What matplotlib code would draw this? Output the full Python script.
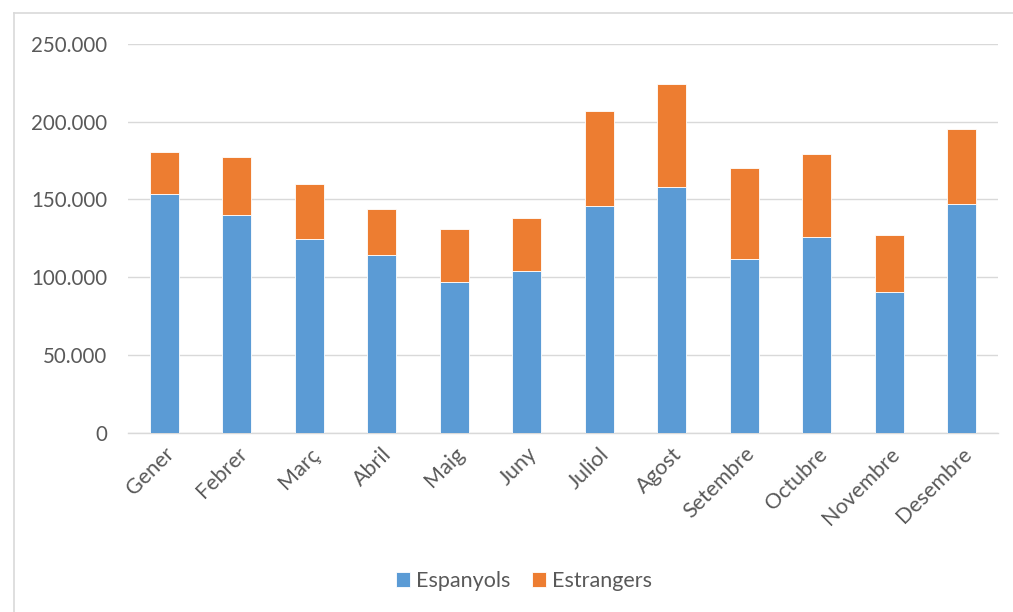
import matplotlib
matplotlib.use("Agg")
import matplotlib.pyplot as plt
from matplotlib.ticker import FuncFormatter, MultipleLocator
from matplotlib.lines import Line2D
import numpy as np

months = ["Gener", "Febrer", "Març", "Abril", "Maig", "Juny", "Juliol",
          "Agost", "Setembre", "Octubre", "Novembre", "Desembre"]
espanyols = [153400, 139900, 124800, 114200, 96800, 104100, 146100,
             158100, 112000, 125900, 90300, 147000]
totals = [180400, 177200, 159800, 143800, 130900, 138400, 207200,
          224200, 170300, 179300, 127000, 195200]
estrangers = [t - e for t, e in zip(totals, espanyols)]

plt.rcParams['font.family'] = ['Lato', 'DejaVu Sans']
text_color = "#595959"

fig = plt.figure(figsize=(10.13, 6.12), dpi=100)
ax = fig.add_axes([128/1013, 1-432.7/612, (998-128)/1013, (432.7-44)/612])

x = np.arange(len(months))
w = 0.40
ax.bar(x, espanyols, w, color="#5B9BD5", edgecolor="white", linewidth=0.6,
       label="Espanyols", zorder=3)
ax.bar(x, estrangers, w, bottom=espanyols, color="#ED7D31", edgecolor="white",
       linewidth=0.6, label="Estrangers", zorder=3)

ax.set_xlim(-0.5, len(months) - 0.5)
ax.set_ylim(0, 250000)
ax.yaxis.set_major_locator(MultipleLocator(50000))
ax.yaxis.set_major_formatter(FuncFormatter(lambda v, p: f"{int(v):,}".replace(",", ".")))
ax.grid(axis="y", color="#d9d9d9", linewidth=1.0, zorder=0)
for s in ["top", "right", "left"]:
    ax.spines[s].set_visible(False)
ax.spines["bottom"].set_color("#d9d9d9")
ax.spines["bottom"].set_linewidth(1.0)
ax.tick_params(axis="x", length=0, colors=text_color, labelsize=15.5, pad=8)
ax.tick_params(axis="y", length=0, colors=text_color, labelsize=14.8, pad=15)
ax.set_xticks(x)
ax.set_xticklabels(months, rotation=45, ha="right", rotation_mode="anchor")

fig.legend(loc="center", bbox_to_anchor=(524/1013, 1-581/612), ncol=2, frameon=False,
           fontsize=15.5, labelcolor=text_color, handlelength=0.65, handleheight=0.65,
           handletextpad=0.3, columnspacing=1.0)

# outer chart border (left and top visible)
fig.add_artist(Line2D([14/1013, 14/1013], [0, 1-13/612], color="#d9d9d9", linewidth=1.2,
                      transform=fig.transFigure))
fig.add_artist(Line2D([14/1013, 1], [1-13/612, 1-13/612], color="#d9d9d9", linewidth=1.2,
                      transform=fig.transFigure))

fig.savefig("out.png", dpi=100)
